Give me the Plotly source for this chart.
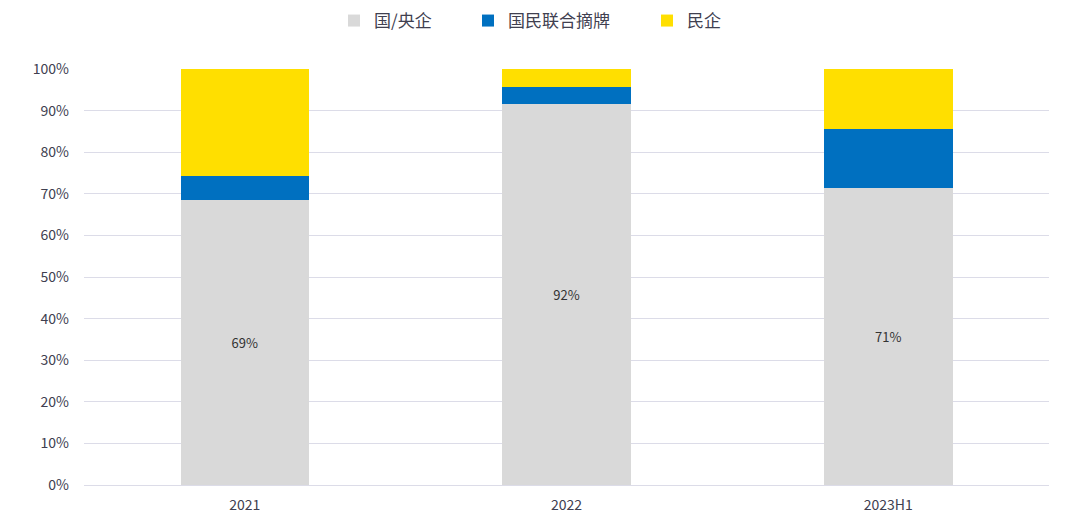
import plotly.graph_objects as go

categories = ["2021", "2022", "2023H1"]
state_owned = [68.6, 91.7, 71.4]
joint = [5.8, 4.0, 14.2]
private = [25.6, 4.3, 14.4]
state_labels = ["69%", "92%", "71%"]
y_ticks = [0, 10, 20, 30, 40, 50, 60, 70, 80, 90, 100]
y_tick_text = [f"{v}%" for v in y_ticks]

FONT = "Noto Sans CJK SC"
LEG_FONT = dict(family=FONT, size=17, color="#404050")

fig = go.Figure()
fig.add_trace(go.Bar(
    name="国/央企", x=categories, y=state_owned,
    marker=dict(color="#D9D9D9", line=dict(width=0)),
    text=state_labels, textposition="inside", insidetextanchor="middle",
    textfont=dict(family=FONT, size=13, color="#333333"),
    hoverinfo="x+y", legend="legend",
))
fig.add_trace(go.Bar(
    name="国民联合摘牌", x=categories, y=joint,
    marker=dict(color="#0070C0", line=dict(width=0)),
    hoverinfo="x+y", legend="legend2",
))
fig.add_trace(go.Bar(
    name="民企", x=categories, y=private,
    marker=dict(color="#FFDF00", line=dict(width=0)),
    hoverinfo="x+y", legend="legend3",
))

PLOT_L, PLOT_W = 76, 965
PLOT_T, PLOT_H = 61, 416

def leg(xpx, ypx):
    return dict(orientation="h",
                x=(xpx - PLOT_L) / PLOT_W, xref="paper", xanchor="left",
                y=1 + (PLOT_T - ypx) / PLOT_H, yref="paper", yanchor="top",
                font=LEG_FONT, itemwidth=30, bgcolor="rgba(0,0,0,0)")

fig.update_layout(
    barmode="stack",
    bargap=0.6,
    width=1080, height=521,
    margin=dict(l=76, r=39, t=61, b=44, autoexpand=False),
    plot_bgcolor="white", paper_bgcolor="white",
    font=dict(family=FONT, size=14, color="#404050"),
    legend=leg(326, -5),
    legend2=leg(460, -5),
    legend3=leg(639, -5),
    showlegend=True,
)
fig.update_xaxes(
    showgrid=False, showline=False, ticks="", ticklabelstandoff=10,
    tickfont=dict(family=FONT, size=14, color="#404050"),
)
fig.update_yaxes(
    range=[0, 100], tickvals=y_ticks, ticktext=y_tick_text,
    showgrid=True, gridcolor="#DCDCE8", gridwidth=1,
    zeroline=True, zerolinecolor="#DCDCE8", zerolinewidth=1,
    showline=False, ticks="", ticklabelstandoff=14,
    tickfont=dict(family=FONT, size=14, color="#404050"),
)

fig.write_html("out.html")
